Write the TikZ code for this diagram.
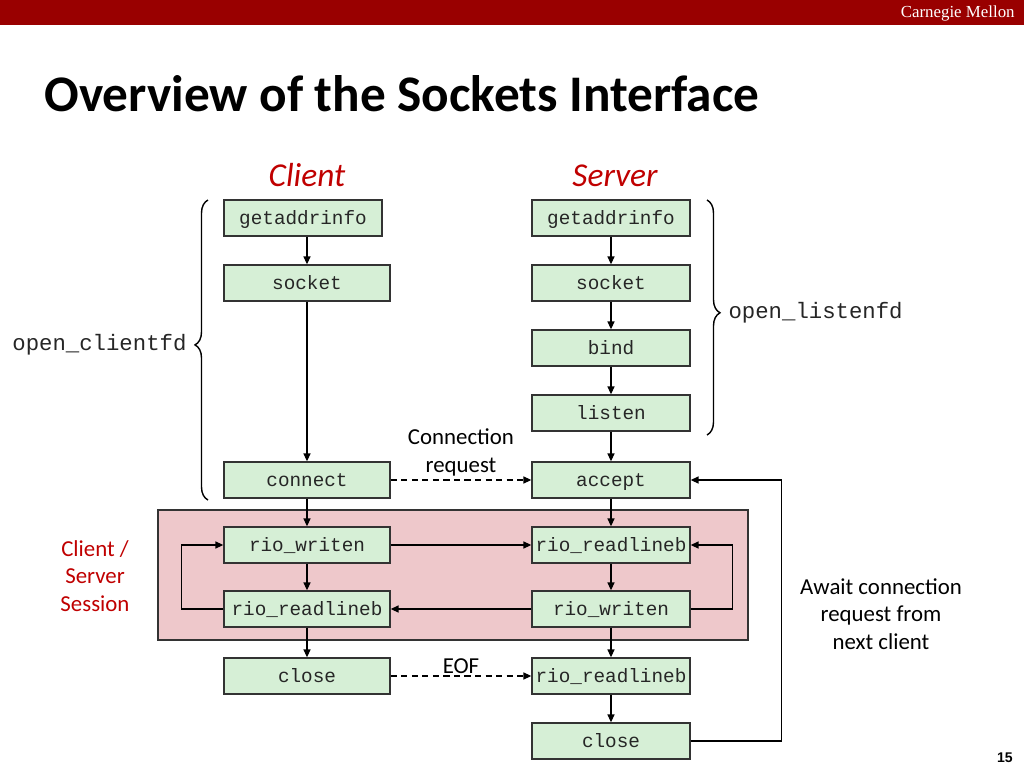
\documentclass[tikz,border=0pt]{standalone}
\usepackage{fontspec}
\setmainfont{Carlito}
\setmonofont{Liberation Mono}
\newfontfamily\serifhead{Liberation Serif}
\newfontfamily\pagefont{Liberation Sans}
\usetikzlibrary{arrows.meta,decorations.pathreplacing}
\definecolor{cmured}{HTML}{990000}
\definecolor{titlered}{HTML}{C00000}
\definecolor{boxgreen}{HTML}{D6EFD6}
\definecolor{sessionpink}{HTML}{EEC8CB}
\begin{document}
\begin{tikzpicture}[
    x=0.02cm, y=-0.02cm,
    % Cajas de llamadas (funciones de sockets)
    func/.style={draw=black!80, line width=0.8pt, fill=boxgreen, minimum width=3.32cm, minimum height=0.72cm, inner sep=0pt, text height=9pt, text depth=1.8pt, text=black!85, font=\ttfamily\fontsize{11}{13}\selectfont},
    narrow/.style={func, minimum width=3.16cm},
    session/.style={draw=black!80, line width=0.8pt, fill=sessionpink, minimum width=11.8cm, minimum height=2.6cm},
    % Flechas de flujo y mensajes
    flow/.style={line width=0.7pt, -{Triangle[length=4.5pt,width=4pt]}},
    msg/.style={flow, dash pattern=on 3.5pt off 2.5pt},
    curly/.style={line width=0.8pt, decorate, decoration={brace, amplitude=0.26cm, aspect=#1}},
    % Textos
    remark/.style={font=\fontsize{13}{15.8}\selectfont, align=center},
    fdlabel/.style={font=\ttfamily\fontsize{12.7}{15}\selectfont, text=black!85},
    role/.style={font=\itshape\fontsize{19}{23}\selectfont, text=titlered, anchor=base}
]
\useasboundingbox (0,0) rectangle (1024,768);
\fill[white] (0,0) rectangle (1024,768);

% --- Cabecera ---
\fill[cmured] (0,0) rectangle (1024,25);
\node[font=\serifhead\fontsize{9.6}{11}\selectfont, text=white, anchor=base east, inner sep=0pt] (cmu) at (1015,17) {Carnegie Mellon};
\node[font=\bfseries\fontsize{29.2}{34}\selectfont, anchor=base west, inner sep=0pt] (title) at (44,111) {Overview of the Sockets Interface};

\node[role] (client) at (307,186) {Client};
\node[role] (server) at (615,186) {Server};

% --- Sesion ---
\node[session] (sess) at (453,575) {};
\node[remark, text=titlered] (sesslbl) at (95,576) {Client /\\Server\\Session};

% --- Cliente ---
\node[narrow] (cga) at (303,218) {getaddrinfo};
\node[func] (csock) at (307,283) {socket};
\node[func] (conn) at (307,480) {connect};
\node[func] (cwr) at (307,545) {rio\_writen};
\node[func] (crl) at (307,609) {rio\_readlineb};
\node[func] (cclose) at (307,676) {close};

% --- Servidor ---
\node[narrow] (sga) at (611,218) {getaddrinfo};
\node[narrow] (ssock) at (611,283) {socket};
\node[narrow] (bind) at (611,348) {bind};
\node[narrow] (listen) at (611,413) {listen};
\node[narrow] (acc) at (611,480) {accept};
\node[narrow] (srl) at (611,545) {rio\_readlineb};
\node[narrow] (swr) at (611,609) {rio\_writen};
\node[narrow] (seof) at (611,676) {rio\_readlineb};
\node[narrow] (sclose) at (611,741) {close};

% --- Flujo ---
\draw[flow] (cga.south -| csock) -- (csock);
\draw[flow] (csock) -- (conn);
\draw[flow] (sga) -- (ssock);
\draw[flow] (ssock) -- (bind);
\draw[flow] (bind) -- (listen);
\draw[flow] (listen) -- (acc);
\draw[msg] (conn) -- node[remark, above, inner sep=2pt] {Connection\\request} (acc);
\draw[flow] (conn) -- (cwr);
\draw[flow] (acc) -- (srl);
\draw[flow] (cwr) -- (srl);
\draw[flow] (cwr) -- (crl);
\draw[flow] (srl) -- (swr);
\draw[flow] (swr) -- (crl);
\draw[flow] (crl.west) -- ++(-42,0) |- (cwr.west);
\draw[flow] (swr.east) -- ++(42,0) |- (srl.east);
\draw[flow] (crl) -- (cclose);
\draw[flow] (swr) -- (seof);
\draw[msg] (cclose) -- node[remark, above, inner sep=1pt] {EOF} (seof);
\draw[flow] (seof) -- (sclose);
\draw[flow] (sclose.east) -- ++(91,0) |- (acc.east);

% --- Llaves ---
\coordinate (lbb) at (208,500);
\coordinate (lbt) at (208,200);
\coordinate (rbt) at (707,200);
\coordinate (rbb) at (707,435);
\draw[curly=0.517] (lbb) -- node[pos=0.517, fdlabel, left=0.3cm] {open\_clientfd} (lbt);
\draw[curly=0.48] (rbt) -- node[pos=0.48, fdlabel, right=0.3cm] {open\_listenfd} (rbb);

\node[remark] (await) at (881,614) {Await connection\\request from\\next client};
\node[font=\pagefont\bfseries\fontsize{8}{10}\selectfont, anchor=base east, inner sep=0pt] (pageno) at (1013,762) {15};

\end{tikzpicture}
\end{document}
